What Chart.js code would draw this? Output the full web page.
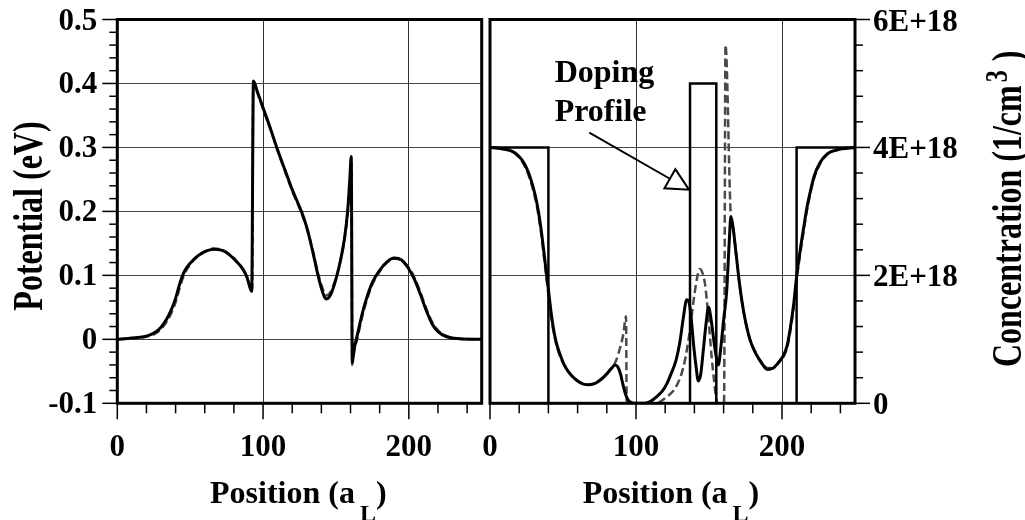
<!DOCTYPE html>
<html>
<head>
<meta charset="utf-8">
<title>Potential and concentration profiles</title>
<script src="https://cdn.jsdelivr.net/npm/chart.js@4.4.1/dist/chart.umd.min.js"></script>
<style>
  html, body { margin: 0; padding: 0; background: #fff; }
  #wrap { position: relative; width: 1025px; height: 520px; overflow: hidden; background: #fff; }
  #wrap canvas { position: absolute; top: 0; }
  #potential { left: 0; }
  #concentration { left: 466px; }
</style>
</head>
<body>
<div id="wrap">
  <canvas id="potential" width="486" height="520"></canvas>
  <canvas id="concentration" width="559" height="520"></canvas>
</div>
<script>
    // ---- left panel: potential (eV) vs position (a_L)
    const potPosSolid = [0, 10, 20, 26, 30, 34, 37, 40, 43, 46, 50, 55, 60, 66, 72, 77, 82, 86.4, 89, 92.2,
        93.4, 96, 100, 105, 109.4, 115, 120, 126.3, 130, 134, 137.7, 140, 142, 143.5, 145, 147, 150, 153, 156, 158,
        159.5, 160.5, 161.2, 162.5, 165, 168, 171, 175, 180, 185, 190, 195, 200, 204, 208, 212, 216, 220, 226, 235, 250];
    const potSolid = [0, 0.002, 0.005, 0.011, 0.019, 0.032, 0.046, 0.064, 0.088, 0.106, 0.119, 0.130, 0.137, 0.141, 0.139, 0.132, 0.121, 0.109, 0.097, 0.075,
        0.404, 0.388, 0.362, 0.330, 0.300, 0.265, 0.234, 0.200, 0.175, 0.138, 0.100, 0.080, 0.067, 0.063, 0.065, 0.073, 0.094, 0.122, 0.160, 0.200,
        0.250, 0.286, -0.036, -0.015, 0.010, 0.040, 0.064, 0.089, 0.108, 0.121, 0.127, 0.124, 0.110, 0.093, 0.070, 0.045, 0.024, 0.012, 0.004, 0.001, 0];
    const potPosDashed = [0, 10, 20, 26, 30, 34, 37, 40, 43, 46, 50, 55, 60, 66, 72, 77, 82, 86.4, 89, 92.6,
        93.2, 96, 100, 105, 109.4, 115, 120, 126.3, 130, 134, 137.7, 140, 142, 143.5, 145, 147, 150, 153, 156, 158,
        159.5, 160.8, 161.1, 162.5, 165, 168, 171, 175, 180, 185, 190, 195, 200, 204, 208, 212, 216, 220, 226, 235, 250];
    const potDashed = [0, 0.002, 0.004, 0.009, 0.016, 0.028, 0.041, 0.058, 0.082, 0.102, 0.117, 0.129, 0.137, 0.142, 0.140, 0.133, 0.122, 0.108, 0.096, 0.078,
        0.400, 0.386, 0.360, 0.329, 0.299, 0.263, 0.232, 0.198, 0.174, 0.140, 0.103, 0.085, 0.073, 0.069, 0.070, 0.077, 0.096, 0.122, 0.158, 0.195,
        0.240, 0.275, -0.040, -0.020, 0.005, 0.035, 0.060, 0.086, 0.106, 0.120, 0.126, 0.124, 0.112, 0.096, 0.073, 0.048, 0.027, 0.014, 0.005, 0.001, 0];

    // ---- right panel: concentration (units of 1E+18 / cm3)
    const dopPos = [0, 40, 40, 137, 137, 155, 155, 210, 210, 250];
    const dopConc = [4, 4, 0, 0, 5, 5, 0, 0, 4, 4];
    const concPosSolid = [0, 8, 14, 18, 22, 25, 28, 31, 33, 35, 37, 38.8, 40.5, 42.2, 44, 46, 49, 52, 56, 60,
        64, 68, 72, 76, 80, 83, 85.6, 87.5, 89.5, 91, 93, 95, 97, 100, 106, 110, 114, 118, 121, 124,
        127.5, 130, 132.5, 134.7, 136, 137.5, 139.3, 141, 142.7, 144.3, 146.1, 148, 149.7, 151.5, 153.5, 155, 156.4, 158, 160, 162.1,
        163.8, 165, 166.5, 168.5, 171, 174, 178, 182, 186, 190, 194, 198, 201, 203.5, 205.5, 208, 210, 212.5, 214.6, 217,
        219.2, 222, 226, 231, 237.5, 250];
    const concSolid = [4.0, 3.98, 3.95, 3.9, 3.8, 3.68, 3.5, 3.25, 3.02, 2.72, 2.35, 2.0, 1.68, 1.36, 1.1, 0.9, 0.7, 0.55, 0.43, 0.35,
        0.3, 0.29, 0.31, 0.37, 0.46, 0.54, 0.6, 0.57, 0.45, 0.3, 0.13, 0.04, 0.01, 0, 0, 0.03, 0.1, 0.19, 0.3, 0.46,
        0.68, 0.95, 1.35, 1.62, 1.6, 1.4, 0.95, 0.6, 0.35, 0.45, 0.83, 1.25, 1.5, 1.3, 0.95, 0.72, 0.6, 0.85, 1.3, 1.75,
        2.5, 2.92, 2.75, 2.35, 1.85, 1.4, 1.0, 0.78, 0.63, 0.53, 0.55, 0.65, 0.75, 0.9, 1.15, 1.55, 1.98, 2.4, 2.71, 3.05,
        3.29, 3.55, 3.76, 3.9, 3.96, 4.0];
    const concPosDashed = [0, 8, 14, 18, 22, 25, 28, 31, 33, 35, 37, 38.8, 40.5, 42.2, 44, 46, 49, 52, 56, 60,
        64, 68, 72, 76, 80, 83, 85.6, 88, 91.3, 93.2, 93.6, 96, 112, 116, 121, 125, 127.9, 131, 133.6, 136,
        138.1, 140, 141.6, 143.5, 145, 147.3, 149.5, 151.8, 153.5, 155.3, 157, 160.3, 161.3, 165, 166.5, 168.5, 171, 174, 178, 182,
        186, 190, 194, 198, 201, 203.5, 205.5, 208, 210, 212.5, 214.6, 217, 219.2, 222, 226, 231, 237.5, 250];
    const concDashed = [4.0, 3.98, 3.95, 3.89, 3.78, 3.65, 3.46, 3.2, 2.97, 2.66, 2.28, 1.93, 1.6, 1.3, 1.06, 0.87, 0.68, 0.55, 0.43, 0.35,
        0.3, 0.29, 0.32, 0.38, 0.46, 0.55, 0.63, 0.78, 1.08, 1.36, 0.02, 0, 0, 0.02, 0.1, 0.18, 0.28, 0.45, 0.68, 1.0,
        1.36, 1.7, 1.93, 2.1, 2.07, 1.86, 1.36, 0.73, 0.35, 0.03, 0, 0, 5.6, 2.9, 2.74, 2.34, 1.84, 1.39, 1.0, 0.79,
        0.64, 0.55, 0.56, 0.64, 0.73, 0.87, 1.1, 1.5, 1.92, 2.34, 2.66, 3.0, 3.26, 3.52, 3.74, 3.89, 3.96, 4.0];

    // ---- ticks
    const posTicks = [0, 100, 200];
    const posTickLabels = ['0', '100', '200'];
    const potTicks = [-0.1, 0, 0.1, 0.2, 0.3, 0.4, 0.5];
    const potTickLabels = ['-0.1', '0', '0.1', '0.2', '0.3', '0.4', '0.5'];
    const concTicks = [0, 2, 4, 6];
    const concTickLabels = ['0', '2E+18', '4E+18', '6E+18'];

    const FAMILY = '"Liberation Serif", "Times New Roman", serif';
    const tickFont = { family: FAMILY, size: 31, weight: 'bold' };

    function pairs(xs, ys) {
        return xs.map((x, i) => ({ x: x, y: ys[i] }));
    }

    function line(ctx, x1, y1, x2, y2) {
        ctx.beginPath();
        ctx.moveTo(x1, y1);
        ctx.lineTo(x2, y2);
        ctx.stroke();
    }

    // frame around the plot plus major / minor tick marks outside it
    function frameTicks(cfg) {
        return {
            id: 'frameTicks',
            afterDatasetsDraw(chart) {
                const ctx = chart.ctx, a = chart.chartArea;
                const xs = chart.scales.x, ys = chart.scales.y;
                ctx.save();
                ctx.strokeStyle = '#000';
                ctx.lineWidth = 1.5;
                for (let k = 0; k <= 12; k++) {
                    const px = xs.getPixelForValue(k * 20);
                    line(ctx, px, a.bottom, px, a.bottom + (k % 5 === 0 ? 16 : 10));
                }
                for (let k = 0; k <= cfg.yCount; k++) {
                    const py = ys.getPixelForValue(ys.min + k * cfg.yStep);
                    const len = k % 5 === 0 ? 15 : 8;
                    if (cfg.side === 'left') line(ctx, a.left - len, py, a.left, py);
                    else line(ctx, a.right, py, a.right + len, py);
                }
                ctx.lineWidth = 3;
                ctx.strokeRect(a.left, a.top, a.right - a.left, a.bottom - a.top);
                ctx.restore();
            }
        };
    }

    function drawPositionTitle(ctx, x, base) {
        ctx.textAlign = 'left';
        ctx.textBaseline = 'alphabetic';
        ctx.font = 'bold 32px ' + FAMILY;
        ctx.fillText('Position (a', x, base);
        x += ctx.measureText('Position (a').width + 5;
        ctx.font = 'bold 24px ' + FAMILY;
        ctx.fillText('L', x, base + 18);
        x += ctx.measureText('L').width;
        ctx.font = 'bold 32px ' + FAMILY;
        ctx.fillText(')', x, base);
    }

    const leftTitles = {
        id: 'leftTitles',
        afterDraw(chart) {
            const ctx = chart.ctx, a = chart.chartArea;
            ctx.save();
            ctx.fillStyle = '#000';
            drawPositionTitle(ctx, a.left + 92.7, 503.3);
            ctx.translate(41.5, 216);
            ctx.rotate(-Math.PI / 2);
            ctx.scale(1, 1.33);
            ctx.font = 'bold 32px ' + FAMILY;
            ctx.textAlign = 'center';
            ctx.fillText('Potential (eV)', 0, 0);
            ctx.restore();
        }
    };

    const rightTitles = {
        id: 'rightTitles',
        afterDraw(chart) {
            const ctx = chart.ctx, a = chart.chartArea;
            const xs = chart.scales.x, ys = chart.scales.y;
            ctx.save();
            ctx.fillStyle = '#000';
            ctx.strokeStyle = '#000';
            drawPositionTitle(ctx, a.left + 92.7, 503.3);

            // "Doping Profile" note with hollow arrow head
            ctx.font = 'bold 32px ' + FAMILY;
            ctx.textAlign = 'left';
            ctx.fillText('Doping', xs.getPixelForValue(44.3), ys.getPixelForValue(5.03));
            ctx.fillText('Profile', xs.getPixelForValue(44.3), ys.getPixelForValue(4.41));
            const x0 = xs.getPixelForValue(68), y0 = ys.getPixelForValue(4.23);
            const x1 = xs.getPixelForValue(136.3), y1 = ys.getPixelForValue(3.34);
            const ang = Math.atan2(y1 - y0, x1 - x0);
            const c = Math.cos(ang), s = Math.sin(ang);
            const bx = x1 - 22 * c, by = y1 - 22 * s;
            ctx.lineWidth = 2;
            line(ctx, x0, y0, bx, by);
            ctx.beginPath();
            ctx.moveTo(x1, y1);
            ctx.lineTo(bx + 11 * s, by - 11 * c);
            ctx.lineTo(bx - 11 * s, by + 11 * c);
            ctx.closePath();
            ctx.fillStyle = '#fff';
            ctx.fill();
            ctx.stroke();

            // rotated axis title with superscript
            ctx.fillStyle = '#000';
            ctx.translate(555, 367);
            ctx.rotate(-Math.PI / 2);
            ctx.scale(1, 1.3);
            ctx.font = 'bold 32px ' + FAMILY;
            ctx.fillText('Concentration (1/cm', 0, 0);
            let t = ctx.measureText('Concentration (1/cm').width + 3;
            ctx.font = 'bold 24px ' + FAMILY;
            ctx.fillText('3', t, -11);
            t += ctx.measureText('3').width + 9;
            ctx.font = 'bold 32px ' + FAMILY;
            ctx.fillText(')', t, 0);
            ctx.restore();
        }
    };

    // tick labels are pushed away from the frame with (invisible) tick length,
    // so ticks.padding stays 0 and does not inflate the layout padding
    function xScale() {
        return {
            type: 'linear', position: 'bottom', min: 0, max: 250,
            afterBuildTicks: s => { s.ticks = posTicks.map(v => ({ value: v })); },
            afterFit: s => { s.height = 116.7; },
            ticks: { padding: 0, color: '#000', font: tickFont, maxRotation: 0, callback: (v, i) => posTickLabels[i] },
            grid: { color: '#333', lineWidth: 1, drawTicks: true, tickLength: 26, tickColor: 'rgba(0,0,0,0)' },
            border: { display: false }
        };
    }

    const common = {
        responsive: false,
        animation: false,
        events: [],
        elements: { point: { radius: 0 }, line: { cubicInterpolationMode: 'monotone', fill: false } },
        plugins: { legend: { display: false }, tooltip: { enabled: false } }
    };

    new Chart(document.getElementById('potential'), {
        type: 'line',
        data: {
            datasets: [
                { label: 'Potential', data: pairs(potPosSolid, potSolid), borderColor: '#000', borderWidth: 3, order: 0 },
                { label: 'Potential (dashed)', data: pairs(potPosDashed, potDashed), borderColor: '#4a4a4a', borderWidth: 2.5, borderDash: [8, 4], order: 1 }
            ]
        },
        options: Object.assign({}, common, {
            layout: { padding: { top: 19.5, right: 4.3, left: 0, bottom: 0 } },
            scales: {
                x: xScale(),
                y: {
                    type: 'linear', position: 'left', min: -0.1, max: 0.5,
                    afterBuildTicks: s => { s.ticks = potTicks.map(v => ({ value: v })); },
                    afterFit: s => { s.width = 117.3; },
                    ticks: { padding: 0, labelOffset: 2, color: '#000', font: tickFont, callback: (v, i) => potTickLabels[i] },
                    grid: { color: '#444', lineWidth: 1, drawTicks: true, tickLength: 20, tickColor: 'rgba(0,0,0,0)' },
                    border: { display: false }
                }
            }
        }),
        plugins: [frameTicks({ side: 'left', yCount: 30, yStep: 0.02 }), leftTitles]
    });

    new Chart(document.getElementById('concentration'), {
        type: 'line',
        data: {
            datasets: [
                { label: 'Concentration', data: pairs(concPosSolid, concSolid), borderColor: '#000', borderWidth: 3, order: 0 },
                { label: 'Doping', data: pairs(dopPos, dopConc), borderColor: '#000', borderWidth: 2.5, tension: 0, cubicInterpolationMode: 'default', order: 1 },
                { label: 'Concentration (dashed)', data: pairs(concPosDashed, concDashed), borderColor: '#4a4a4a', borderWidth: 2.5, borderDash: [8, 4], order: 2 }
            ]
        },
        options: Object.assign({}, common, {
            layout: { padding: { top: 19.5, right: 0, left: 24, bottom: 0 } },
            scales: {
                x: xScale(),
                y: {
                    type: 'linear', position: 'right', min: 0, max: 6,
                    afterBuildTicks: s => { s.ticks = concTicks.map(v => ({ value: v })); },
                    afterFit: s => { s.width = 170; },
                    ticks: { padding: 0, labelOffset: 3, color: '#000', font: tickFont, callback: (v, i) => concTickLabels[i] },
                    grid: { color: '#444', lineWidth: 1, drawTicks: true, tickLength: 18, tickColor: 'rgba(0,0,0,0)' },
                    border: { display: false }
                }
            }
        }),
        plugins: [frameTicks({ side: 'right', yCount: 15, yStep: 0.4 }), rightTitles]
    });
</script>
</body>
</html>
